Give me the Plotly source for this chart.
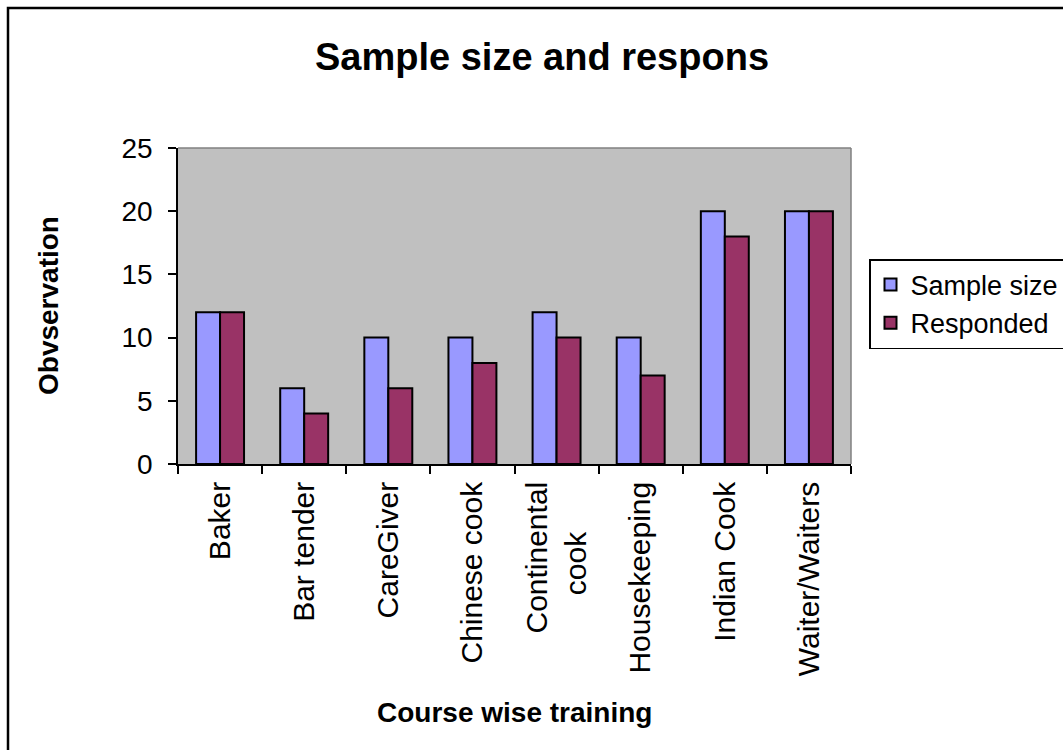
import plotly.graph_objects as go

NBSP = "\u00a0"
categories = ["Baker", "Bar tender", "CareGiver", "Chinese cook",
              "Continental<br>cook" + NBSP * 6,
              "Housekeeping", "Indian Cook", "Waiter/Waiters"]
sample_size = [12, 6, 10, 10, 12, 10, 20, 20]
responded = [12, 4, 6, 8, 10, 7, 18, 20]
y_ticks = [0, 5, 10, 15, 20, 25]

FONT = "Liberation Sans, Arial, sans-serif"

fig = go.Figure()
fig.add_trace(go.Bar(name="Sample size", x=categories, y=sample_size,
                     marker=dict(color="#9999FF", line=dict(color="black", width=2))))
fig.add_trace(go.Bar(name="Responded", x=categories, y=responded,
                     marker=dict(color="#993366", line=dict(color="black", width=2))))

W, H = 1063, 750
L, R, T, B = 178, 212, 148, 286
pw, ph = W - L - R, H - T - B

def px_x(px):
    return (px - L) / pw

def px_y(py):
    return (H - B - py) / ph

fig.update_layout(
    width=W, height=H,
    margin=dict(l=L, r=R, t=T, b=B, autoexpand=False),
    paper_bgcolor="white", plot_bgcolor="#C0C0C0",
    barmode="group", bargap=0.43, bargroupgap=0,
    font=dict(family=FONT, color="black", size=28),
    title=dict(text="<b>Sample size and respons</b>", font=dict(size=38, family=FONT),
               x=542 / W, xanchor="center", xref="container",
               y=1 - 57 / H, yanchor="middle", yref="container"),
    showlegend=True,
    legend=dict(x=px_x(869), xanchor="left", y=px_y(304), yanchor="middle",
                bordercolor="black", borderwidth=1.5, bgcolor="white",
                font=dict(size=27, family=FONT), itemsizing="constant",
                tracegroupgap=0),
    xaxis=dict(showline=True, linecolor="black", linewidth=1.5,
               ticks="outside", ticklen=8, tickcolor="black", tickwidth=1.5,
               tickson="boundaries", tickangle=-90, showgrid=False,
               tickfont=dict(size=30), ticklabelstandoff=4, automargin=False),
    yaxis=dict(range=[0, 25], tickvals=y_ticks, showline=True, linecolor="black",
               linewidth=1.5, ticks="outside", ticklen=8, tickcolor="black",
               tickwidth=1.5, showgrid=False, zeroline=False,
               tickfont=dict(size=28), ticklabelstandoff=10, automargin=False),
    annotations=[
        dict(text="<b>Obvservation</b>", textangle=-90, xref="paper", yref="paper",
             x=px_x(48), y=0.5, xanchor="center", yanchor="middle",
             showarrow=False, font=dict(size=28)),
        dict(text="<b>Course wise training</b>", xref="paper", yref="paper",
             x=px_x(514), y=px_y(712), xanchor="center", yanchor="middle",
             showarrow=False, font=dict(size=28)),
    ],
    shapes=[
        dict(type="line", xref="paper", yref="paper", x0=0, x1=1, y0=1, y1=1,
             line=dict(color="#808080", width=1.5)),
        dict(type="line", xref="paper", yref="paper", x0=1, x1=1, y0=0, y1=1,
             line=dict(color="#808080", width=1.5)),
        dict(type="rect", xref="paper", yref="paper", x0=px_x(8), x1=px_x(1300),
             y0=px_y(1000), y1=px_y(8), line=dict(color="black", width=2.5)),
    ],
)

fig.write_html("out.html", config={"displayModeBar": False},
               post_script="document.body.style.margin='0';document.body.style.padding='0';")
